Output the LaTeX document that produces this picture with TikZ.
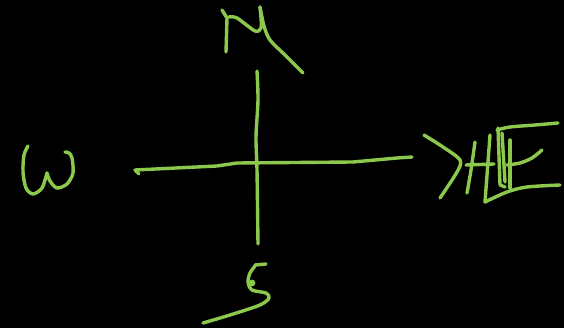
\documentclass[tikz,border=0pt]{standalone}
\usetikzlibrary{backgrounds}
\definecolor{limeink}{HTML}{8CC84B}
\tikzset{chalk/.style={draw=limeink,line width=3.4pt,line cap=round,line join=round},board/.style={fill=black}}
\begin{document}
\begin{tikzpicture}[x=1pt,y=-1pt]
\fill[board] (0,0) rectangle (564,328);
\useasboundingbox (0,0) rectangle (564,328);
% cross
\draw[chalk] plot[smooth] coordinates {(257,71) (258,100) (256,137) (257,170) (258,244)};
\draw[chalk] (139,174) -- (135,170) -- (217,166) -- (237,163) -- (353,162) -- (397,158) -- (412,157);
% N
\draw[chalk] (222,10) -- (227,18) -- (226,52);
\draw[chalk] plot[smooth] coordinates {(229,17) (237,18) (255,31) (261,28) (261,18) (260,7)};
\draw[chalk] plot[smooth] coordinates {(260,7) (264,26) (270,40) (286,56) (303,73)};
% W
\draw[chalk] plot[smooth] coordinates {(28,146) (24,155) (23,172) (26,188) (33,194) (42,188) (47,173)};
\draw[chalk] plot[smooth] coordinates {(47,173) (50,181) (57,188) (67,184) (73,173) (72,158) (69,153) (65,152)};
% S
\draw[chalk] (255,265) -- (266,264);
\draw[chalk] plot[smooth] coordinates {(255,266) (250,273) (248,282) (252,290) (266,293) (269,298) (260,305) (230,315) (203,323)};
\fill[limeink] (252,283) circle (3.4pt);
% E
\draw[chalk] plot[smooth] coordinates {(424,135) (443,147) (460,160) (457,172) (440,198)};
\draw[chalk] plot[smooth] coordinates {(475,142) (471,170) (467,193)};
\draw[chalk] (490,135) -- (485,202);
\draw[chalk] (466,165) -- (494,164);
\draw[chalk] (498,128) -- (500,185) -- (505,187);
\draw[chalk] (502,133) -- (505,182);
\draw[chalk] (510,140) -- (510,188);
\draw[chalk] plot[smooth] coordinates {(497,130) (510,127) (535,125) (558,123)};
\draw[chalk] plot[smooth] coordinates {(507,165) (520,163) (532,158) (542,150)};
\draw[chalk] plot[smooth] coordinates {(485,202) (507,192) (527,187) (560,185)};
\end{tikzpicture}
\end{document}
